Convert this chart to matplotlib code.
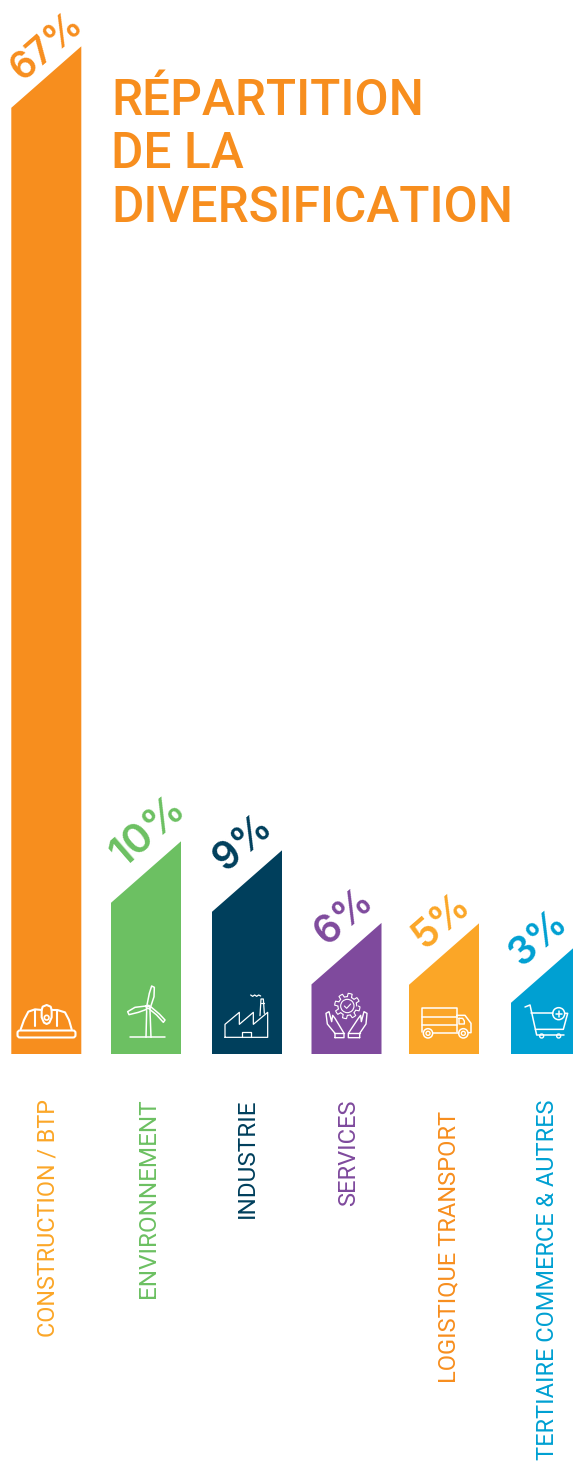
#!/usr/bin/env python

import numpy as np
import matplotlib
matplotlib.use('Agg')
import matplotlib.pyplot as plt
from matplotlib.patches import Circle, FancyBboxPatch

categories = ['CONSTRUCTION / BTP', 'ENVIRONNEMENT', 'INDUSTRIE', 'SERVICES',
              'LOGISTIQUE TRANSPORT', 'TERTIAIRE COMMERCE & AUTRES']
percents = [67, 10, 9, 6, 5, 3]
bar_colors = ['#F78E1E', '#6CC062', '#003F5C', '#7F4A9D', '#FBA627', '#00A0D2']
label_colors = ['#FBA627', '#6CC062', '#003F5C', '#7F4A9D', '#F78E1E', '#00A0D2']
title_lines = ['RÉPARTITION', 'DE LA', 'DIVERSIFICATION']

# infographic value axis: warped, not proportional (percent -> pixels above the base)
scale_values = [0, 3, 5, 6, 9, 10, 67, 70.32]
scale_pixels = [0, 113, 131, 131.4, 204, 213, 1008, 1054.3]

W, H, BASE = 573, 1461, 1054.3
bar_left = [11.3, 111, 212, 311.5, 409, 511]
bar_width = 70
rise = 61.5


def forward(v):
    return np.interp(v, scale_values, scale_pixels)


def inverse(p):
    return np.interp(p, scale_pixels, scale_values)


fig = plt.figure(figsize=(W / 100, H / 100), dpi=100)

ax = fig.add_axes([0, 1 - BASE / H, 1, BASE / H])
ax.set_yscale('function', functions=(forward, inverse))
ax.set_xlim(0, W)
ax.set_ylim(0, 70.32)
ax.axis('off')

for v, x, c in zip(percents, bar_left, bar_colors):
    shoulder = inverse(forward(v) - rise)
    ax.fill([x, x, x + bar_width, x + bar_width], [0, shoulder, v, 0], color=c, lw=0)

# everything else is placed in pixel coordinates, origin top left
px = fig.add_axes([0, 0, 1, 1])
px.set_xlim(0, W)
px.set_ylim(H, 0)
px.axis('off')
px.patch.set_alpha(0)

title_y = [115, 168.5, 221.7]
for line, y in zip(title_lines, title_y):
    px.text(111, y, line, color='#F78E1E', family='Roboto', weight='medium', size=35.7,
            ha='left', va='baseline')

pct_xy = [(47, 47), (148, 832), (243, 843), (344, 917), (441, 921), (539, 938)]
pct_size = [27, 29.5, 28, 28, 28, 28]
for v, (x, y), c, s in zip(percents, pct_xy, bar_colors, pct_size):
    px.text(x, y, f'{v}%', color=c, family='Inter', weight='semibold', size=s, rotation=41,
            ha='center', va='center', rotation_mode='anchor')

label_x = [48.5, 148.5, 247.5, 348.5, 448.5, 547.5]
label_top = [1099, 1098, 1099, 1099, 1111, 1099]
label_size = [16.85, 17.5, 17.5, 17, 17, 16.9]
for name, x, y, c, s in zip(categories, label_x, label_top, label_colors, label_size):
    px.text(x, y, name, color=c, family='Roboto', size=s, rotation=90,
            ha='center', va='top')


def stroke(pts, ox, oy, lw=1.0, closed=False):
    # pts are in 3x icon sheet units
    p = np.array(pts, dtype=float) / 3
    if closed:
        p = np.vstack([p, p[0]])
    px.plot(p[:, 0] + ox, p[:, 1] + oy, color='white', lw=lw,
            solid_capstyle='round', solid_joinstyle='round')


def ring(cx, cy, r, ox, oy, lw=1.0):
    px.add_patch(Circle((cx / 3 + ox, cy / 3 + oy), r / 3, fc='none', ec='white', lw=lw))


# helmet
ox, oy = 0, 780
px.add_patch(FancyBboxPatch((17.5, 1030.5), 58, 7, boxstyle='round,pad=0,rounding_size=2.5',
                            fc='none', ec='white', lw=1.5))
stroke([(62, 748), (72, 720), (85, 695), (105, 688), (125, 690), (128, 680), (140, 675), (152, 680),
        (155, 690), (172, 690), (195, 697), (207, 720), (215, 748)], ox, oy, 1.5)
stroke([(105, 690), (105, 738)], ox, oy, 1.5)
stroke([(125, 690), (125, 712), (132, 728), (140, 732), (148, 728), (155, 712), (155, 690)], ox, oy, 1.5)
stroke([(172, 692), (172, 738)], ox, oy, 1.5)
ring(140, 713, 7, ox, oy, 1.2)

# wind turbine
stroke([(390, 772), (495, 772)], ox, oy, 1.1)
stroke([(440, 692), (438, 772)], ox, oy, 1.1)
stroke([(450, 692), (453, 772)], ox, oy, 1.1)
stroke([(440, 680), (448, 640), (455, 618), (463, 622), (462, 650), (452, 680)], ox, oy, 1.1, True)
stroke([(438, 678), (405, 682), (383, 695), (387, 704), (415, 697), (440, 688)], ox, oy, 1.1, True)
stroke([(449, 688), (470, 705), (490, 727), (495, 720), (478, 702), (452, 680)], ox, oy, 1.1, True)
ring(445, 681, 5, ox, oy, 1.0)

# factory
stroke([(675, 772), (675, 733), (718, 697), (718, 733), (760, 697), (760, 733), (803, 697), (803, 772)],
       ox, oy, 0.9, True)
stroke([(725, 772), (725, 755), (752, 755), (752, 772)], ox, oy, 0.9)
stroke([(780, 707), (783, 657), (790, 657), (793, 700)], ox, oy, 0.9)
stroke([(782, 670), (791, 670)], ox, oy, 0.9)
stroke([(752, 645), (758, 649), (764, 645), (770, 649), (776, 645), (782, 648)], ox, oy, 0.9)

# hands and gear
ox, oy = 290, 870
angles = np.linspace(0, 2 * np.pi, 97)
gear_r = 33 + 5 * np.sign(np.sin(8 * angles))
stroke(np.c_[172 + gear_r * np.cos(angles), 408 + gear_r * np.sin(angles)], ox, oy, 0.8)
ring(172, 408, 20, ox, oy, 0.8)
stroke([(163, 408), (170, 415), (182, 402)], ox, oy, 0.8)
stroke([(135, 503), (135, 490), (112, 462), (108, 430), (117, 425), (125, 455), (128, 436), (135, 445),
        (162, 490), (162, 503)], ox, oy, 1.0, True)
stroke([(209, 503), (209, 490), (228, 462), (231, 430), (222, 425), (214, 455), (212, 436), (205, 445),
        (175, 490), (175, 503)], ox, oy, 1.0, True)
stroke([(133, 490), (162, 490)], ox, oy, 1.0)
stroke([(175, 490), (209, 490)], ox, oy, 1.0)

# truck
stroke([(395, 487), (395, 413), (500, 413), (500, 487)], ox, oy, 1.1)
stroke([(395, 441), (500, 441)], ox, oy, 1.1)
stroke([(395, 464), (500, 464)], ox, oy, 1.1)
stroke([(500, 436), (525, 436), (543, 460), (543, 488), (535, 488)], ox, oy, 1.1)
stroke([(428, 488), (506, 488)], ox, oy, 1.1)
stroke([(507, 445), (518, 445), (523, 453), (523, 462), (507, 462)], ox, oy, 1.0, True)
for cx in (414, 520):
    ring(cx, 490, 14, ox, oy, 1.1)
    ring(cx, 490, 6, ox, oy, 1.0)

# shopping cart
stroke([(705, 411), (720, 405), (740, 495), (822, 495)], ox, oy, 1.1)
stroke([(724, 430), (788, 430)], ox, oy, 1.1)
stroke([(824, 430), (833, 430), (820, 478), (736, 478)], ox, oy, 1.1)
ring(755, 498, 6, ox, oy, 1.0)
ring(806, 498, 6, ox, oy, 1.0)
ring(806, 431, 18, ox, oy, 1.1)
stroke([(797, 431), (815, 431)], ox, oy, 1.1)
stroke([(806, 422), (806, 440)], ox, oy, 1.1)

fig.savefig('out.png', dpi=100)
